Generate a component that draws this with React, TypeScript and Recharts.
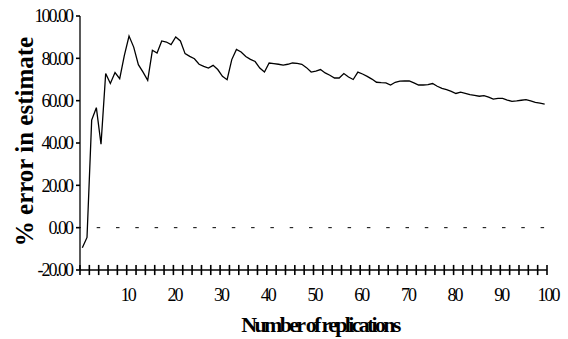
import { Label, Line, LineChart, ReferenceLine, XAxis, YAxis } from "recharts";

// % error in the estimate after each replication (1..100)
const errorPct = [
  -9.5, -4.6, 50.8, 56.7, 39.4, 72.8, 68.1, 73.3, 70.4, 81.4,
  90.5, 85.3, 77.0, 73.5, 69.6, 83.8, 82.5, 88.2, 87.7, 86.5,
  90.1, 88.2, 82.2, 80.9, 79.8, 77.2, 76.2, 75.4, 76.7, 74.7,
  71.5, 69.9, 79.4, 84.2, 83.0, 80.9, 79.5, 78.5, 75.4, 73.5,
  77.8, 77.5, 77.2, 76.8, 77.2, 77.8, 77.6, 77.2, 75.6, 73.5,
  74.0, 74.7, 73.1, 72.0, 70.7, 70.7, 72.8, 71.2, 70.0, 73.5,
  72.6, 71.5, 70.2, 68.7, 68.5, 68.4, 67.4, 68.7, 69.2, 69.3,
  69.3, 68.4, 67.4, 67.4, 67.6, 68.1, 66.8, 65.8, 65.2, 64.4,
  63.4, 64.0, 63.5, 62.9, 62.5, 62.1, 62.4, 61.7, 60.7, 61.1,
  61.1, 60.3, 59.7, 59.9, 60.2, 60.5, 59.9, 59.2, 58.8, 58.4,
];
const replications = errorPct.map((_, i) => i + 1);

const yTicks = [-20, 0, 20, 40, 60, 80, 100];
const xLabels = [10, 20, 30, 40, 50, 60, 70, 80, 90, 100];
// tick marks sit between categories, every second one
const xTickMarks = Array.from({ length: 51 }, (_, i) => i * 2 + 0.5);

const data = replications.map((rep, i) => ({ rep, err: errorPct[i] }));

const FONT = "Liberation Serif";
const X_MIN = 0.5;
const Y_MIN = -20;

function renderXTick(props: any) {
  const { x, y, payload } = props;
  const label = payload.value - 0.5;
  if (!xLabels.includes(label)) return <g key={`t-${payload.value}`} />;
  return (
    <text
      key={`t-${payload.value}`}
      x={x + 1}
      y={y + 31}
      textAnchor="middle"
      fontFamily={FONT}
      fontSize={18}
      letterSpacing={-2}
      fill="#000"
    >
      {label}
    </text>
  );
}

export default function App() {
  return (
    <div style={{ width: 568, height: 339 }}>
      <style>{`body{margin:0}`}</style>
      <LineChart
        width={568}
        height={339}
        data={data}
        margin={{ top: 16, right: 21, bottom: 0, left: 0 }}
      >
        <XAxis
          dataKey="rep"
          type="number"
          domain={[0.5, 100.5]}
          ticks={xTickMarks}
          interval={0}
          tickLine={false}
          tickSize={0}
          tickMargin={0}
          height={69}
          stroke="#000"
          axisLine={{ stroke: "#000", strokeWidth: 1.3 }}
          tick={renderXTick}
        >
          <Label
            content={() => (
              <text
                x={320}
                y={332}
                textAnchor="middle"
                fontFamily={FONT}
                fontWeight="bold"
                fontSize={22}
                letterSpacing={-2.7}
                fill="#000"
              >
                Number of replications
              </text>
            )}
          />
        </XAxis>
        <YAxis
          type="number"
          domain={[-20, 100]}
          ticks={yTicks}
          width={80}
          tickLine={false}
          tickSize={0}
          tickMargin={8}
          stroke="#000"
          axisLine={{ stroke: "#000", strokeWidth: 1.3 }}
          tickFormatter={(v: number) => v.toFixed(2)}
          tick={{ fontFamily: FONT, fontSize: 18, letterSpacing: -2, fill: "#000" }}
        >
          <Label
            content={() => (
              <text
                x={33}
                y={141.5}
                transform="rotate(-90 33 141.5)"
                textAnchor="middle"
                fontFamily={FONT}
                fontWeight="bold"
                fontSize={25}
                fill="#000"
              >
                % error in estimate
              </text>
            )}
          />
        </YAxis>
        {xTickMarks.map((v) => (
          <ReferenceLine
            key={`xm-${v}`}
            segment={[
              { x: v, y: Y_MIN - 2.4 },
              { x: v, y: Y_MIN + 2.4 },
            ]}
            ifOverflow="visible"
            stroke="#000"
            strokeWidth={1.6}
          />
        ))}
        {yTicks.map((v) => (
          <ReferenceLine
            key={`ym-${v}`}
            segment={[
              { x: X_MIN - 0.86, y: v },
              { x: X_MIN, y: v },
            ]}
            ifOverflow="visible"
            stroke="#000"
            strokeWidth={1.6}
          />
        ))}
        <ReferenceLine
          y={0}
          stroke="#000"
          strokeWidth={1}
          strokeDasharray="3.5 15.8"
          strokeDashoffset={2.6}
        />
        <Line
          type="linear"
          dataKey="err"
          stroke="#000"
          strokeWidth={1.3}
          dot={false}
          isAnimationActive={false}
        />
      </LineChart>
    </div>
  );
}
